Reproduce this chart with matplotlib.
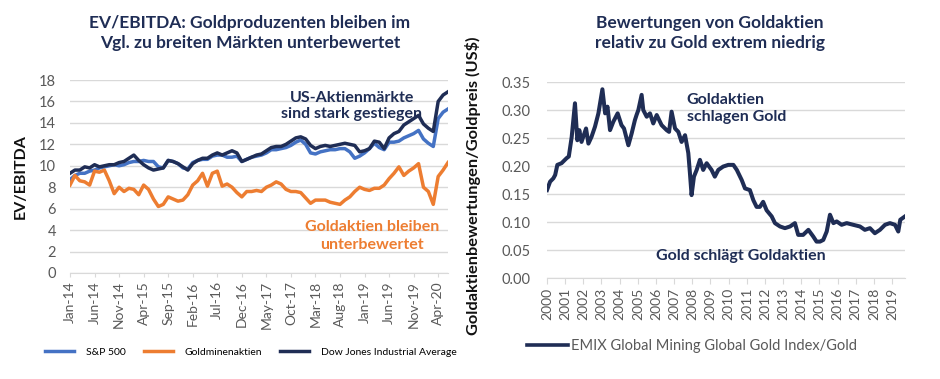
import matplotlib
matplotlib.use("Agg")
import matplotlib.pyplot as plt
from matplotlib.lines import Line2D

plt.rcParams['font.family'] = ['Lato', 'DejaVu Sans']

# ---------------- data: left chart (monthly, Jan-14 .. Jun-20) ----------------
sp500 = [8.7, 9.1, 9.3, 9.3, 9.5, 9.6, 9.8, 9.9, 10.0, 10.1, 10.0, 10.1, 10.3, 10.4, 10.4, 10.5,
         10.4, 10.4, 9.9, 9.8, 10.5, 10.4, 10.2, 9.8, 9.7, 10.3, 10.5, 10.6, 10.6, 10.9, 11.0, 11.0,
         10.8, 10.8, 10.9, 10.4, 10.6, 10.8, 10.9, 11.0, 11.2, 11.5, 11.5, 11.6, 11.7, 11.9, 12.2, 12.4,
         12.0, 11.2, 11.1, 11.3, 11.4, 11.5, 11.5, 11.6, 11.6, 11.3, 10.7, 10.9, 11.2, 11.6, 12.1, 11.7,
         11.5, 12.2, 12.2, 12.3, 12.6, 12.8, 13.0, 13.3, 12.5, 12.1, 11.8, 14.4, 15.0, 15.3]
goldminers = [8.2, 9.1, 8.6, 8.5, 8.2, 9.5, 9.4, 9.6, 8.6, 7.4, 8.0, 7.6, 7.9, 7.8, 7.3, 8.2,
              7.8, 6.9, 6.2, 6.4, 7.1, 6.9, 6.7, 6.8, 7.3, 8.2, 8.6, 9.3, 8.1, 9.3, 9.5, 8.1,
              8.3, 8.0, 7.5, 7.1, 7.6, 7.6, 7.7, 7.6, 8.0, 8.2, 8.5, 8.3, 7.8, 7.6, 7.6, 7.5,
              7.0, 6.5, 6.8, 6.8, 6.8, 6.6, 6.5, 6.4, 6.8, 7.1, 7.6, 8.0, 7.8, 7.7, 7.9, 7.9,
              8.2, 8.8, 9.3, 9.9, 9.1, 9.5, 9.8, 10.2, 8.0, 7.6, 6.4, 9.0, 9.6, 10.3]
dowjones = [9.3, 9.6, 9.6, 9.9, 9.8, 10.1, 9.9, 10.0, 10.1, 10.1, 10.3, 10.4, 10.7, 11.0, 10.5, 10.1,
            9.8, 9.6, 9.7, 9.8, 10.5, 10.4, 10.2, 9.9, 9.6, 10.2, 10.5, 10.7, 10.7, 11.0, 11.2, 11.0,
            11.2, 11.4, 11.2, 10.4, 10.6, 10.8, 11.0, 11.1, 11.4, 11.7, 11.8, 11.8, 12.0, 12.3, 12.6, 12.7,
            12.5, 11.9, 11.6, 11.8, 11.9, 11.8, 11.9, 12.0, 12.1, 12.0, 11.9, 11.3, 11.4, 11.6, 12.3, 12.2,
            11.6, 12.6, 13.0, 13.2, 13.8, 14.1, 14.4, 14.7, 13.9, 13.5, 13.2, 16.0, 16.6, 16.9]
month_tick_labels = ['Jan-14', 'Jun-14', 'Nov-14', 'Apr-15', 'Sep-15', 'Feb-16', 'Jul-16', 'Dec-16',
                     'May-17', 'Oct-17', 'Mar-18', 'Aug-18', 'Jan-19', 'Jun-19', 'Nov-19', 'Apr-20']

# ---------------- data: right chart (EMIX Global Mining Gold Index / Gold) ----------------
ratio_years = [2000.0, 2000.17, 2000.35, 2000.45, 2000.57, 2000.8, 2001.08, 2001.2, 2001.36, 2001.54,
               2001.67, 2001.78, 2001.9, 2002.15, 2002.28, 2002.45, 2002.64, 2002.83, 2003.05, 2003.2,
               2003.33, 2003.47, 2003.65, 2003.89, 2004.1, 2004.24, 2004.48, 2004.66, 2004.84, 2004.93,
               2005.03, 2005.21, 2005.3, 2005.49, 2005.67, 2005.85, 2006.04, 2006.31, 2006.59, 2006.72,
               2006.86, 2007.05, 2007.23, 2007.41, 2007.6, 2007.78, 2007.87, 2007.96, 2008.09, 2008.24,
               2008.42, 2008.6, 2008.79, 2009.06, 2009.24, 2009.43, 2009.7, 2009.98, 2010.26, 2010.45,
               2010.72, 2010.9, 2011.17, 2011.36, 2011.54, 2011.72, 2011.9, 2012.09, 2012.37, 2012.55,
               2012.83, 2013.1, 2013.38, 2013.65, 2013.83, 2014.1, 2014.39, 2014.66, 2014.84, 2015.03,
               2015.21, 2015.4, 2015.58, 2015.77, 2015.95, 2016.22, 2016.5, 2016.86, 2017.23, 2017.5,
               2017.78, 2018.05, 2018.33, 2018.61, 2018.88, 2019.16, 2019.34, 2019.45, 2019.71]
ratio_values = [0.157, 0.172, 0.178, 0.184, 0.202, 0.205, 0.214, 0.217, 0.252, 0.312,
                0.246, 0.264, 0.243, 0.267, 0.240, 0.252, 0.270, 0.294, 0.337, 0.294,
                0.306, 0.264, 0.279, 0.294, 0.273, 0.267, 0.237, 0.258, 0.282, 0.291,
                0.300, 0.327, 0.300, 0.288, 0.294, 0.276, 0.291, 0.273, 0.264, 0.261,
                0.297, 0.267, 0.261, 0.243, 0.255, 0.223, 0.187, 0.148, 0.181, 0.193,
                0.211, 0.193, 0.205, 0.193, 0.181, 0.193, 0.199, 0.202, 0.202, 0.193,
                0.175, 0.160, 0.157, 0.139, 0.127, 0.127, 0.136, 0.121, 0.110, 0.098,
                0.092, 0.089, 0.092, 0.098, 0.077, 0.077, 0.086, 0.074, 0.065, 0.065,
                0.068, 0.083, 0.113, 0.098, 0.101, 0.095, 0.098, 0.095, 0.092, 0.086,
                0.089, 0.080, 0.086, 0.095, 0.098, 0.095, 0.083, 0.104, 0.110]
year_ticks = list(range(2000, 2020))

# ---------------- styling ----------------
NAVY = '#1F2D55'
BLUE = '#4472C4'
ORANGE = '#ED7D31'
GRID = '#D9D9D9'
TICKC = '#595959'

fig = plt.figure(figsize=(9.4, 3.79), dpi=100)

# ===== left chart =====
ax1 = fig.add_axes([70/940, 1-273/379, 378/940, 193/379])
x = list(range(len(sp500)))
ax1.plot(x, sp500, color=BLUE, lw=2.5, solid_joinstyle='round', zorder=3)
ax1.plot(x, goldminers, color=ORANGE, lw=2.5, solid_joinstyle='round', zorder=3)
ax1.plot(x, dowjones, color=NAVY, lw=2.5, solid_joinstyle='round', zorder=4)
ax1.set_ylim(0, 18)
ax1.set_xlim(0, len(sp500) - 1)
ax1.set_yticks(range(0, 19, 2))
ax1.set_xticks(range(0, len(sp500), 5))
ax1.set_xticklabels(month_tick_labels, rotation=90)
ax1.tick_params(axis='y', length=0, labelsize=10.5, colors=TICKC, pad=10)
ax1.tick_params(axis='x', length=3, labelsize=10, colors=TICKC, pad=3, color=GRID)
ax1.grid(axis='y', color=GRID, lw=1.0)
ax1.set_axisbelow(True)
for s in ['top', 'right', 'left']:
    ax1.spines[s].set_visible(False)
ax1.spines['bottom'].set_color(GRID)
ax1.set_ylabel('EV/EBITDA', fontsize=11.5, fontweight='bold', color='#111111', labelpad=8)
ax1.text(0.746, 0.865, 'US-Aktienmärkte\nsind stark gestiegen', transform=ax1.transAxes,
         ha='center', va='center', fontsize=11.5, fontweight='bold', color=NAVY,
         linespacing=1.2, zorder=2)
ax1.text(0.80, 0.19, 'Goldaktien bleiben\nunterbewertet', transform=ax1.transAxes,
         ha='center', va='center', fontsize=11.5, fontweight='bold', color=ORANGE,
         linespacing=1.35, zorder=2)

fig.text(250/940, 1-33/379, 'EV/EBITDA: Goldproduzenten bleiben im\nVgl. zu breiten Märkten unterbewertet',
         ha='center', va='center', fontsize=12.5, fontweight='bold', color=NAVY, linespacing=1.3)

handles = [Line2D([], [], color=BLUE, lw=2.5),
           Line2D([], [], color=ORANGE, lw=2.5),
           Line2D([], [], color=NAVY, lw=2.5)]
fig.legend(handles, ['S&P 500', 'Goldminenaktien', 'Dow Jones Industrial Average'],
           loc='center', bbox_to_anchor=(251/940, 1-352/379), ncol=3, frameon=False,
           fontsize=7.5, handlelength=2.8, columnspacing=1.7, handletextpad=1.15)

# ===== right chart =====
ax2 = fig.add_axes([547/940, 1-278/379, 358/940, 196/379])
ax2.plot(ratio_years, ratio_values, color=NAVY, lw=2.9, solid_joinstyle='round', zorder=3)
ax2.set_ylim(0, 0.35)
ax2.set_xlim(2000, 2019.71)
ax2.set_yticks([0.0, 0.05, 0.10, 0.15, 0.20, 0.25, 0.30, 0.35])
ax2.set_yticklabels(['0.00', '0.05', '0.10', '0.15', '0.20', '0.25', '0.30', '0.35'])
ax2.set_xticks(year_ticks)
ax2.set_xticklabels([str(y) for y in year_ticks], rotation=90)
ax2.tick_params(axis='y', length=0, labelsize=10.5, colors=TICKC, pad=12)
ax2.tick_params(axis='x', length=4, labelsize=10, colors=TICKC, pad=3, color=GRID)
ax2.grid(axis='y', color=GRID, lw=1.0)
ax2.set_axisbelow(True)
for s in ['top', 'right', 'left']:
    ax2.spines[s].set_visible(False)
ax2.spines['bottom'].set_color(GRID)
ax2.set_ylabel('Goldaktienbewertungen/Goldpreis (US$)', fontsize=11.8, fontweight='bold',
               color='#111111', labelpad=6)
ax2.yaxis.set_label_coords(-0.185, 0.47)
ax2.text(0.39, 0.865, 'Goldaktien\nschlagen Gold', transform=ax2.transAxes,
         ha='left', va='center', fontsize=11.5, fontweight='bold', color=NAVY, linespacing=1.35)
ax2.text(0.54, 0.112, 'Gold schlägt Goldaktien', transform=ax2.transAxes,
         ha='center', va='center', fontsize=11.5, fontweight='bold', color=NAVY)

fig.text(710/940, 1-33/379, 'Bewertungen von Goldaktien\nrelativ zu Gold extrem niedrig',
         ha='center', va='center', fontsize=12.5, fontweight='bold', color=NAVY, linespacing=1.3)

fig.legend([Line2D([], [], color=NAVY, lw=2.6)], ['EMIX Global Mining Global Gold Index/Gold'],
           loc='center', bbox_to_anchor=(692/940, 1-346/379), frameon=False,
           fontsize=10.5, handlelength=2.8, handletextpad=0.2, labelcolor=TICKC)

fig.savefig('out.png', dpi=100)
